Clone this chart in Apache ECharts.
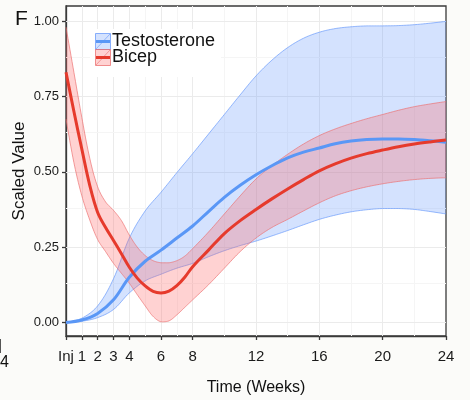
<!DOCTYPE html>
<html><head><meta charset="utf-8">
<script src="https://cdn.jsdelivr.net/npm/echarts@6/dist/echarts.min.js"></script>
<style>html,body{margin:0;padding:0;background:#fbfbf9}#c{width:470px;height:400px}</style>
</head><body><div id="c"></div>
<script>
// ---- tick labels / grid positions ----
const xTickValues = [0, 1, 2, 3, 4, 6, 8, 12, 16, 20, 24];
const xTickLabels = ['Inj', '1', '2', '3', '4', '6', '8', '12', '16', '20', '24'];
const xMinorGrid = [5, 7, 10, 14, 18, 22];
const yTickValues = [0, 0.25, 0.5, 0.75, 1];
const yTickLabels = ['0.00', '0.25', '0.50', '0.75', '1.00'];
const yMinorGrid = [0.125, 0.375, 0.625, 0.875];

// ---- Testosterone ----
const testoWeeks = [0,1,2,3,4,5,6,7,8,9,10,11,12,13,14,15,16,17,18,19,20,21,22,23,24];
const testoMean  = [0,0.008,0.03,0.075,0.15,0.203,0.24,0.28,0.32,0.368,0.415,0.455,0.49,0.52,0.546,0.565,0.579,0.593,0.602,0.607,0.609,0.609,0.607,0.603,0.598];
const testoUpper = [0,0.014,0.055,0.145,0.28,0.37,0.432,0.497,0.56,0.625,0.69,0.755,0.818,0.87,0.912,0.943,0.963,0.975,0.981,0.984,0.984,0.985,0.988,0.993,0.999];
const testoLower = [0,0.004,0.016,0.043,0.098,0.138,0.16,0.18,0.196,0.218,0.238,0.255,0.27,0.287,0.305,0.324,0.342,0.356,0.367,0.374,0.378,0.378,0.375,0.368,0.36];

// ---- Bicep ----
const bicepWeeks = [0,0.5,1,1.5,2,2.5,3,3.5,4,4.5,5,5.5,6,6.5,7,7.5,8,9,10,11,12,13,14,15,16,17,18,19,20,21,22,23,24];
const bicepMean  = [0.83,0.70,0.575,0.455,0.365,0.315,0.272,0.228,0.183,0.147,0.121,0.103,0.098,0.104,0.122,0.15,0.185,0.24,0.295,0.338,0.375,0.41,0.443,0.474,0.503,0.526,0.545,0.56,0.572,0.583,0.592,0.599,0.605];
const bicepUpper = [0.98,0.83,0.68,0.545,0.45,0.40,0.372,0.338,0.29,0.25,0.222,0.205,0.198,0.198,0.205,0.22,0.245,0.30,0.36,0.42,0.476,0.52,0.558,0.592,0.62,0.642,0.66,0.676,0.69,0.704,0.716,0.725,0.733];
const bicepLower = [0.675,0.53,0.42,0.34,0.275,0.235,0.196,0.163,0.13,0.092,0.055,0.02,0.002,0.005,0.025,0.05,0.075,0.125,0.18,0.235,0.28,0.315,0.342,0.37,0.397,0.42,0.437,0.45,0.46,0.468,0.474,0.478,0.48];

const seriesNames = ['Testosterone', 'Bicep'];

const FONT = 'Liberation Sans, Arial, sans-serif';
const BLUE = '#5a97f6', BLUE_FILL = 'rgba(100,150,250,0.28)', BLUE_EDGE = 'rgba(100,150,250,0.75)';
const RED = '#e63a2c', RED_FILL = 'rgba(255,100,100,0.29)', RED_EDGE = 'rgba(235,110,110,0.75)';
const SM = 0.35;

const pairs = (xs, ys) => xs.map((x, i) => [x, ys[i]]);
const rows = (xs, lo, hi) => xs.map((x, i) => [x, lo[i], hi[i]]);

// smooth a pixel polyline (cubic Bezier, same style as ECharts line smoothing) and sample it
function densify(pts, s) {
  const n = pts.length, cpOut = [], cpIn = [];
  for (let i = 0; i < n; i++) {
    const p = pts[i];
    if (i === 0 || i === n - 1) { cpOut[i] = p; cpIn[i] = p; continue; }
    const a = pts[i - 1], b = pts[i + 1];
    const vx = b[0] - a[0], vy = b[1] - a[1];
    const l0 = Math.hypot(p[0] - a[0], p[1] - a[1]), l1 = Math.hypot(b[0] - p[0], b[1] - p[1]);
    const r = l1 / (l0 + l1);
    let oy = p[1] + vy * s * r, iy = p[1] - vy * s * (1 - r);
    oy = Math.min(Math.max(oy, Math.min(p[1], b[1])), Math.max(p[1], b[1]));
    iy = Math.min(Math.max(iy, Math.min(p[1], a[1])), Math.max(p[1], a[1]));
    cpOut[i] = [p[0] + vx * s * r, oy];
    cpIn[i] = [p[0] - vx * s * (1 - r), iy];
  }
  const out = [pts[0]];
  const STEPS = 10;
  for (let i = 1; i < n; i++) {
    const p0 = pts[i - 1], c0 = cpOut[i - 1], c1 = cpIn[i], p1 = pts[i];
    for (let k = 1; k <= STEPS; k++) {
      const t = k / STEPS, u = 1 - t;
      out.push([
        u*u*u*p0[0] + 3*u*u*t*c0[0] + 3*u*t*t*c1[0] + t*t*t*p1[0],
        u*u*u*p0[1] + 3*u*u*t*c0[1] + 3*u*t*t*c1[1] + t*t*t*p1[1]
      ]);
    }
  }
  return out;
}

function bandRenderer(xs, lo, hi, fill, edge) {
  return function (params, api) {
    if (params.dataIndex !== 0) return null;
    const up = densify(xs.map((x, i) => api.coord([x, hi[i]])), SM);
    const dn = densify(xs.map((x, i) => api.coord([x, lo[i]])), SM);
    return {
      type: 'group',
      children: [
        { type: 'polygon', shape: { points: up.concat(dn.slice().reverse()) }, style: { fill: fill } },
        { type: 'polyline', shape: { points: up }, style: { stroke: edge, lineWidth: 0.9, fill: null } },
        { type: 'polyline', shape: { points: dn }, style: { stroke: edge, lineWidth: 0.9, fill: null } }
      ]
    };
  };
}

const inner = (arr, a, b) => arr.filter(v => v > a && v < b);
const gridData = []
  .concat(inner(xTickValues, 0, 24).map(v => ({ xAxis: v, lineStyle: { color: '#ebebeb', width: 1, type: 'solid' } })))
  .concat(xMinorGrid.map(v => ({ xAxis: v, lineStyle: { color: '#f5f5f5', width: 1, type: 'solid' } })))
  .concat(yTickValues.map(v => ({ yAxis: v, lineStyle: { color: '#ebebeb', width: 1, type: 'solid' } })))
  .concat(yMinorGrid.map(v => ({ yAxis: v, lineStyle: { color: '#f5f5f5', width: 1, type: 'solid' } })));

const chart = echarts.init(document.getElementById('c'), null, { renderer: 'canvas' });
chart.setOption({
  animation: false,
  backgroundColor: '#fbfbf9',
  textStyle: { fontFamily: FONT },
  grid: { left: 66, right: 24, top: 6, bottom: 64, containLabel: false, outerBoundsMode: 'none',
          show: true, backgroundColor: '#ffffff', borderColor: '#3a3a3a', borderWidth: 1.3 },
  xAxis: {
    type: 'value', min: 0, max: 24,
    name: 'Time (Weeks)', nameLocation: 'middle', nameGap: 44,
    nameTextStyle: { fontSize: 16, color: '#111', fontFamily: FONT },
    axisLine: { onZero: false, lineStyle: { color: '#3a3a3a', width: 1.3 } },
    axisTick: { customValues: xTickValues, length: 4, lineStyle: { color: '#3a3a3a', width: 1.3 } },
    axisLabel: {
      customValues: xTickValues, margin: 13, fontSize: 15, color: '#1a1a1a', fontFamily: FONT,
      formatter: v => xTickLabels[xTickValues.indexOf(v)]
    },
    splitLine: { show: false }
  },
  yAxis: {
    type: 'value', min: -0.045, max: 1.05,
    name: 'Scaled Value', nameLocation: 'middle', nameGap: 38, nameRotate: 90, nameMoveOverlap: false,
    nameTextStyle: { fontSize: 17, color: '#111', fontFamily: FONT },
    axisLine: { onZero: false, lineStyle: { color: '#3a3a3a', width: 1.3 } },
    axisTick: { customValues: yTickValues, length: 4, lineStyle: { color: '#3a3a3a', width: 1.3 } },
    axisLabel: {
      customValues: yTickValues, margin: 7, fontSize: 13, color: '#1a1a1a', fontFamily: FONT,
      formatter: v => yTickLabels[yTickValues.indexOf(v)]
    },
    splitLine: { show: false }
  },
  series: [
    { type: 'line', name: 'grid', data: [], silent: true,
      markLine: { z: 1, silent: true, symbol: 'none', label: { show: false }, emphasis: { disabled: true }, data: gridData } },
    { type: 'custom', name: seriesNames[0] + ' band', z: 2, silent: true,
      data: rows(testoWeeks, testoLower, testoUpper), encode: { x: 0, y: [1, 2] },
      renderItem: bandRenderer(testoWeeks, testoLower, testoUpper, BLUE_FILL, BLUE_EDGE) },
    { type: 'custom', name: seriesNames[1] + ' band', z: 3, silent: true,
      data: rows(bicepWeeks, bicepLower, bicepUpper), encode: { x: 0, y: [1, 2] },
      renderItem: bandRenderer(bicepWeeks, bicepLower, bicepUpper, RED_FILL, RED_EDGE) },
    { type: 'line', name: seriesNames[0], data: pairs(testoWeeks, testoMean), smooth: SM, symbol: 'none', z: 4,
      lineStyle: { color: BLUE, width: 3 } },
    { type: 'line', name: seriesNames[1], data: pairs(bicepWeeks, bicepMean), smooth: SM, symbol: 'none', z: 5,
      lineStyle: { color: RED, width: 3 } }
  ],
  graphic: [
    { type: 'text', left: 15, top: 9, style: { text: 'F', fontSize: 21, fontFamily: FONT, fill: '#111' } },
    { type: 'text', left: 0, top: 355, style: { text: '4', fontSize: 16, fontFamily: FONT, fill: '#111' } },
    { type: 'line', shape: { x1: 0.5, y1: 339, x2: 0.5, y2: 353 }, style: { stroke: '#555', lineWidth: 1 } },
    // legend
    { type: 'rect', shape: { x: 90, y: 29, width: 131, height: 48 }, style: { fill: '#ffffff' }, z: 20 },
    { type: 'rect', shape: { x: 95.5, y: 33.5, width: 15, height: 16 }, style: { fill: BLUE_FILL, stroke: BLUE_EDGE, lineWidth: 1 }, z: 21 },
    { type: 'line', shape: { x1: 96, y1: 49, x2: 110, y2: 34 }, style: { stroke: BLUE_EDGE, lineWidth: 0.8 }, z: 22 },
    { type: 'line', shape: { x1: 96, y1: 41.5, x2: 110, y2: 41.5 }, style: { stroke: BLUE, lineWidth: 3 }, z: 22 },
    { type: 'rect', shape: { x: 95.5, y: 49.5, width: 15, height: 16 }, style: { fill: RED_FILL, stroke: RED_EDGE, lineWidth: 1 }, z: 21 },
    { type: 'line', shape: { x1: 96, y1: 65, x2: 110, y2: 50 }, style: { stroke: RED_EDGE, lineWidth: 0.8 }, z: 22 },
    { type: 'line', shape: { x1: 96, y1: 57.5, x2: 110, y2: 57.5 }, style: { stroke: RED, lineWidth: 3 }, z: 22 },
    { type: 'text', x: 112, y: 41.5, z: 22, style: { text: seriesNames[0], fontSize: 18, fontFamily: FONT, fill: '#111', verticalAlign: 'middle' } },
    { type: 'text', x: 112, y: 57.5, z: 22, style: { text: seriesNames[1], fontSize: 18, fontFamily: FONT, fill: '#111', verticalAlign: 'middle' } }
  ]
});
</script>
</body></html>
